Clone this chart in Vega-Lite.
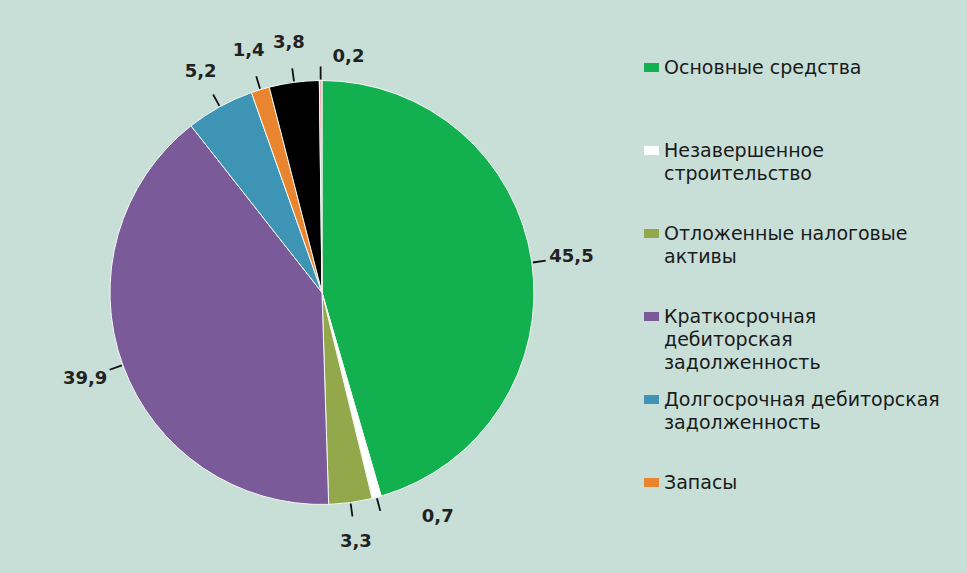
{
  "$schema": "https://vega.github.io/schema/vega-lite/v6.json",
  "width": 624,
  "height": 561,
  "autosize": {"type": "none"},
  "padding": {"left": 10, "top": 12, "right": 333, "bottom": 0},
  "background": "#c8dfd8",
  "config": {
    "view": {"stroke": null},
    "locale": {"number": {"decimal": ",", "thousands": " ", "grouping": [3], "currency": ["", " ₽"]}},
    "style": {"guide-label": {"lineHeight": 23}}
  },
  "data": {
    "values": [
      {"name": "Основные средства", "value": 45.5, "order": 1},
      {"name": "Незавершенное строительство", "value": 0.7, "order": 2},
      {"name": "Отложенные налоговые активы", "value": 3.3, "order": 3},
      {"name": "Краткосрочная дебиторская задолженность", "value": 39.9, "order": 4},
      {"name": "Долгосрочная дебиторская задолженность", "value": 5.2, "order": 5},
      {"name": "Запасы", "value": 1.4, "order": 6},
      {"name": "Денежные средства", "value": 3.8, "order": 7},
      {"name": "Прочие активы", "value": 0.2, "order": 8}
    ]
  },
  "encoding": {
    "theta": {"field": "value", "type": "quantitative", "stack": true},
    "order": {"field": "order", "type": "quantitative"}
  },
  "layer": [
    {
      "mark": {"type": "arc", "outerRadius": 212, "stroke": "#f4f8f4", "strokeWidth": 1},
      "encoding": {
        "color": {
          "field": "name",
          "type": "nominal",
          "sort": null,
          "scale": {
            "domain": ["Основные средства", "Незавершенное строительство", "Отложенные налоговые активы", "Краткосрочная дебиторская задолженность", "Долгосрочная дебиторская задолженность", "Запасы", "Денежные средства", "Прочие активы"],
            "range": ["#12b04f", "#ffffff", "#93a84a", "#7a5a99", "#3e94b4", "#e9852f", "#000000", "#e6b0b4"]
          },
          "legend": {
            "title": null,
            "orient": "none",
            "legendX": 632,
            "legendY": 46,
            "values": ["Основные средства", "Незавершенное строительство", "Отложенные налоговые активы", "Краткосрочная дебиторская задолженность", "Долгосрочная дебиторская задолженность", "Запасы"],
            "symbolType": "M-1,-0.6H1V0.6H-1Z",
            "symbolSize": 225,
            "symbolStrokeWidth": 0,
            "labelFont": "DejaVu Sans",
            "labelFontSize": 19,
            "labelColor": "#1a1a1a",
            "labelLimit": 400,
            "labelOffset": 3,
            "labelBaseline": "middle",
            "rowPadding": 17,
            "gridAlign": "all",
            "labelExpr": "datum.label == 'Незавершенное строительство' ? ['Незавершенное', 'строительство'] : datum.label == 'Отложенные налоговые активы' ? ['Отложенные налоговые', 'активы'] : datum.label == 'Краткосрочная дебиторская задолженность' ? ['Краткосрочная', 'дебиторская', 'задолженность'] : datum.label == 'Долгосрочная дебиторская задолженность' ? ['Долгосрочная дебиторская', 'задолженность'] : datum.label"
          }
        }
      }
    },
    {
      "mark": {"type": "arc", "innerRadius": 213, "outerRadius": 226, "padAngle": 3, "fill": null, "stroke": "#111111", "strokeWidth": 1.8},
      "encoding": {}
    },
    {
      "mark": {"type": "text", "radius": 252, "font": "DejaVu Sans", "fontWeight": "bold", "fontSize": 18, "fill": "#222222"},
      "encoding": {
        "text": {"condition": {"test": "datum.order == 2 || datum.order == 8", "value": ""}, "field": "value", "type": "quantitative", "format": ".1f"}
      }
    },
    {
      "mark": {"type": "text", "radius": 236, "align": "left", "dx": 12, "font": "DejaVu Sans", "fontWeight": "bold", "fontSize": 18, "fill": "#222222"},
      "encoding": {
        "text": {"condition": {"test": "datum.order != 8", "value": ""}, "field": "value", "type": "quantitative", "format": ".1f"}
      }
    },
    {
      "mark": {"type": "text", "radius": 232, "align": "left", "dx": 40, "font": "DejaVu Sans", "fontWeight": "bold", "fontSize": 18, "fill": "#222222"},
      "encoding": {
        "text": {"condition": {"test": "datum.order != 2", "value": ""}, "field": "value", "type": "quantitative", "format": ".1f"}
      }
    }
  ]
}
